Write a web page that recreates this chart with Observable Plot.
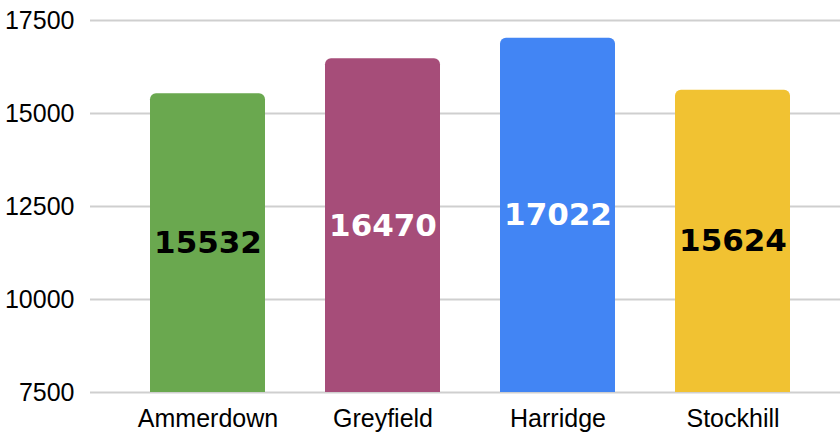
<!DOCTYPE html>
<html>
<head>
<meta charset="utf-8">
<script src="https://cdn.jsdelivr.net/npm/d3@7"></script>
<script src="https://cdn.jsdelivr.net/npm/@observablehq/plot@0.6"></script>
<style>
  html, body { margin: 0; padding: 0; background: #fff; }
  #chart svg { display: block; }
</style>
</head>
<body>
<div id="chart"></div>
<script>
const categories = ["Ammerdown", "Greyfield", "Harridge", "Stockhill"];
const values = [15532, 16470, 17022, 15624];
const colors = ["#6aa84f", "#a64d79", "#4285f4", "#f1c232"];
const labelColors = ["#000000", "#ffffff", "#ffffff", "#000000"];
const yTicks = [7500, 10000, 12500, 15000, 17500];
const yMin = 7500, yMax = 17500;

const data = categories.map((c, i) => ({name: c, value: values[i], color: colors[i], label: labelColors[i]}));

const chart = Plot.plot({
  width: 840,
  height: 434,
  marginTop: 20,
  marginBottom: 42,
  marginLeft: 90,
  marginRight: 0,
  style: {fontFamily: "'Liberation Sans', Arial, sans-serif", fontSize: "25px", color: "#000", background: "#fff"},
  x: {domain: categories, paddingInner: 0.343, paddingOuter: 0.314, align: 0.545, label: null, tickSize: 0, tickPadding: 17},
  y: {domain: [yMin, yMax], ticks: yTicks, label: null, tickSize: 0, tickPadding: 16, tickFormat: d => String(d)},
  marks: [
    Plot.ruleY(yTicks, {stroke: "#cfcfcf", strokeWidth: 2}),
    Plot.barY(data, {x: "name", y: "value", fill: "color", rx: 6, clip: true}),
    Plot.text(data, {
      x: "name",
      y: d => (d.value + yMin) / 2,
      text: d => String(d.value),
      fill: "label",
      fontFamily: "'DejaVu Sans', Verdana, sans-serif",
      fontWeight: "bold",
      fontSize: 31
    })
  ]
});
document.getElementById("chart").appendChild(chart);
</script>
</body>
</html>
